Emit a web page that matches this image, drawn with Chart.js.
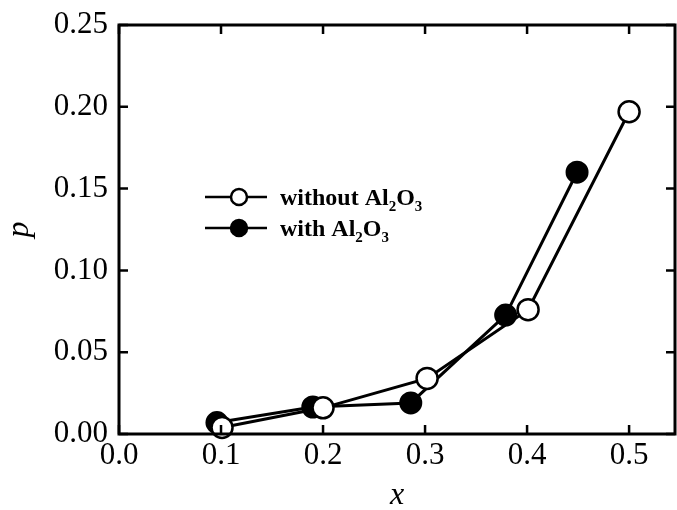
<!DOCTYPE html>
<html>
<head>
<meta charset="utf-8">
<script src="https://cdn.jsdelivr.net/npm/chart.js@4/dist/chart.umd.min.js"></script>
<style>
  html, body { margin: 0; padding: 0; background: #fff; overflow: hidden; }
  canvas { display: block; }
</style>
</head>
<body>
<canvas id="chart" width="677" height="510"></canvas>
<script>
// values
const xWithout = [0.101, 0.2, 0.302, 0.401, 0.5];
const pWithout = [0.004, 0.016, 0.034, 0.076, 0.197];
const xWith = [0.096, 0.19, 0.286, 0.379, 0.449];
const pWith = [0.007, 0.0165, 0.019, 0.0727, 0.160];
const xTicks = [0.0, 0.1, 0.2, 0.3, 0.4, 0.5];
const yTicks = [0.00, 0.05, 0.10, 0.15, 0.20, 0.25];
const seriesNames = ["without Al", "with Al"];

const serif = "'Liberation Serif', 'Times New Roman', serif";

function pts(xs, ys) {
  const out = [];
  for (let i = 0; i < xs.length; i++) out.push({ x: xs[i], y: ys[i] });
  return out;
}

// frame with inward ticks on all four sides
const framePlugin = {
  id: "frame",
  afterDatasetsDraw(chart) {
    const ctx = chart.ctx;
    const a = chart.chartArea;
    const xs = chart.scales.x, ys = chart.scales.y;
    ctx.save();
    ctx.strokeStyle = "#000";
    ctx.lineWidth = 3;
    ctx.strokeRect(a.left, a.top, a.right - a.left, a.bottom - a.top);
    ctx.lineWidth = 2.5;
    const len = 9;
    ctx.beginPath();
    xTicks.forEach(function (v) {
      const px = xs.getPixelForValue(v);
      ctx.moveTo(px, a.bottom); ctx.lineTo(px, a.bottom - len);
      ctx.moveTo(px, a.top); ctx.lineTo(px, a.top + len);
    });
    yTicks.forEach(function (v) {
      const py = ys.getPixelForValue(v);
      ctx.moveTo(a.left, py); ctx.lineTo(a.left + len, py);
      ctx.moveTo(a.right, py); ctx.lineTo(a.right - len, py);
    });
    ctx.stroke();
    ctx.restore();
  },
};

// legend with subscripts (Al2O3)
const legendPlugin = {
  id: "chemLegend",
  afterDraw(chart) {
    const ctx = chart.ctx;
    const a = chart.chartArea;
    const x0 = a.left + 86, y0 = a.top + 172, gap = 31;
    const fills = ["#fff", "#000"];
    ctx.save();
    for (let i = 0; i < seriesNames.length; i++) {
      const y = y0 + i * gap;
      ctx.strokeStyle = "#000";
      ctx.lineWidth = 2.5;
      ctx.beginPath();
      ctx.moveTo(x0, y); ctx.lineTo(x0 + 62, y);
      ctx.stroke();
      ctx.beginPath();
      ctx.arc(x0 + 34, y, 8, 0, Math.PI * 2);
      ctx.fillStyle = fills[i];
      ctx.fill();
      ctx.stroke();
      ctx.fillStyle = "#000";
      ctx.textBaseline = "alphabetic";
      let tx = x0 + 75;
      const base = y + 8;
      ctx.font = "bold 24px " + serif;
      ctx.fillText(seriesNames[i], tx, base);
      tx += ctx.measureText(seriesNames[i]).width;
      ctx.font = "bold 15px " + serif;
      ctx.fillText("2", tx, base + 6);
      tx += ctx.measureText("2").width;
      ctx.font = "bold 24px " + serif;
      ctx.fillText("O", tx, base);
      tx += ctx.measureText("O").width;
      ctx.font = "bold 15px " + serif;
      ctx.fillText("3", tx, base + 6);
    }
    ctx.restore();
  },
};

const ctx = document.getElementById("chart").getContext("2d");
new Chart(ctx, {
  type: "scatter",
  data: {
    datasets: [
      {
        label: "without Al2O3",
        data: pts(xWithout, pWithout),
        showLine: true,
        borderColor: "#000",
        borderWidth: 3,
        backgroundColor: "#fff",
        pointBackgroundColor: "#fff",
        pointBorderColor: "#000",
        pointBorderWidth: 2.5,
        pointRadius: 10.5,
        clip: false,
        order: 0,
      },
      {
        label: "with Al2O3",
        data: pts(xWith, pWith),
        showLine: true,
        borderColor: "#000",
        borderWidth: 3,
        backgroundColor: "#000",
        pointBackgroundColor: "#000",
        pointBorderColor: "#000",
        pointBorderWidth: 2,
        pointRadius: 10.5,
        clip: false,
        order: 1,
      },
    ],
  },
  options: {
    responsive: false,
    animation: false,
    events: [],
    layout: { autoPadding: false, padding: { top: 25, right: 2, left: 0, bottom: 0 } },
    plugins: { legend: { display: false }, tooltip: { enabled: false } },
    scales: {
      x: {
        type: "linear",
        min: 0,
        max: 0.545,
        afterBuildTicks: function (scale) {
          scale.ticks = xTicks.map(function (v) { return { value: v }; });
        },
        afterFit: function (scale) {
          scale.height = 76;
          scale.paddingLeft = 0;
          scale.paddingRight = 0;
        },
        grid: { display: false, drawTicks: false },
        border: { display: false },
        ticks: {
          color: "#000",
          padding: 3,
          font: { family: serif, size: 31 },
          callback: function (v) { return Number(v).toFixed(1); },
        },
        title: {
          display: true,
          text: "x",
          color: "#000",
          padding: { top: -5, bottom: -5 },
          font: { family: serif, size: 32, style: "italic" },
        },
      },
      y: {
        type: "linear",
        min: 0,
        max: 0.25,
        afterBuildTicks: function (scale) {
          scale.ticks = yTicks.map(function (v) { return { value: v }; });
        },
        afterFit: function (scale) {
          scale.width = 119;
          scale.paddingTop = 0;
          scale.paddingBottom = 0;
        },
        grid: { display: false, drawTicks: false },
        border: { display: false },
        ticks: {
          color: "#000",
          padding: 11,
          font: { family: serif, size: 31 },
          callback: function (v) { return Number(v).toFixed(2); },
        },
        title: {
          display: true,
          text: "p",
          color: "#000",
          padding: { top: 0, bottom: 0 },
          font: { family: serif, size: 32, style: "italic" },
        },
      },
    },
  },
  plugins: [framePlugin, legendPlugin],
});
</script>
</body>
</html>
